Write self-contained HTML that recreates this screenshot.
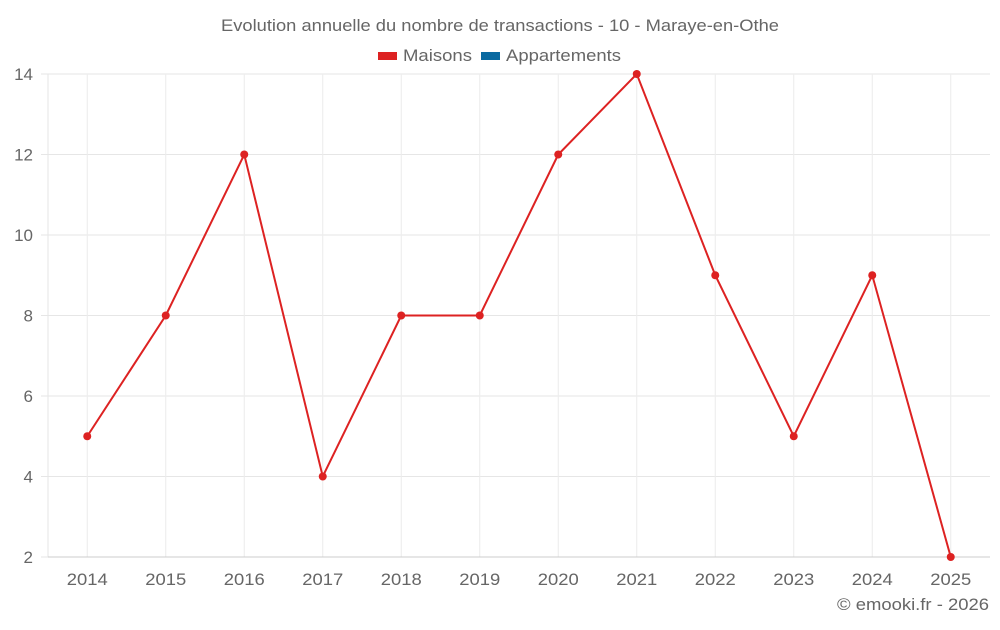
<!DOCTYPE html>
<html><head><meta charset="utf-8"><style>
body{margin:0;background:#fff;width:1000px;height:625px;overflow:hidden;font-family:"Liberation Sans",sans-serif}
</style></head><body>
<svg id="chart" width="1000" height="625" xmlns="http://www.w3.org/2000/svg">
<text x="221" y="31" font-size="17" fill="#666" textLength="558" lengthAdjust="spacingAndGlyphs">Evolution annuelle du nombre de transactions - 10 - Maraye-en-Othe</text>
<g><rect x="378" y="52" width="19" height="8" fill="#dd2222"/><text x="403" y="61" font-size="17" fill="#666" textLength="69" lengthAdjust="spacingAndGlyphs">Maisons</text></g>
<g><rect x="481" y="52" width="19" height="8" fill="#0a6aa1"/><text x="506" y="61" font-size="17" fill="#666" textLength="115" lengthAdjust="spacingAndGlyphs">Appartements</text></g>
<text x="837" y="610" font-size="17" fill="#666" textLength="152" lengthAdjust="spacingAndGlyphs">© emooki.fr - 2026</text>
<g id="grid"></g><g id="axes"></g><g id="series"></g>
</svg>
<script>
const categories=["2014","2015","2016","2017","2018","2019","2020","2021","2022","2023","2024","2025"];
const maisons=[5,8,12,4,8,8,12,14,9,5,9,2];
const yTicks=[2,4,6,8,10,12,14];
const L=48,R=990,T=74,B=557,yMin=2,yMax=14;
const bw=(R-L)/categories.length;
const x=i=>L+bw*(i+0.5);
const y=v=>B-(v-yMin)/(yMax-yMin)*(B-T);
const ns="http://www.w3.org/2000/svg";
function mk(tag,attrs,parent,txt){const e=document.createElementNS(ns,tag);for(const k in attrs)e.setAttribute(k,attrs[k]);if(txt!=null)e.textContent=txt;document.getElementById(parent).appendChild(e);return e;}
yTicks.forEach(v=>{
 const g=mk('line',{x1:41,x2:R,y1:y(v),y2:y(v),stroke:'#e6e6e6'},'grid');
 
 
 const t=mk('text',{x:33,y:y(v)+6,'text-anchor':'end','font-size':17,fill:'#666'},'axes',v);
 
 
});
categories.forEach((c,i)=>{
 const g=mk('line',{x1:x(i),x2:x(i),y1:T,y2:B,stroke:'#ececec'},'grid');
 
 
 const t=mk('text',{x:x(i),y:585,'text-anchor':'middle','font-size':17,fill:'#666',textLength:41,lengthAdjust:'spacingAndGlyphs'},'axes',c);
 
 
});
const ax=mk('line',{x1:L,x2:L,y1:T,y2:B,stroke:'#e6e6e6'},'axes');


const bx=mk('line',{x1:L,x2:R,y1:B,y2:B,stroke:'#ccc'},'axes');


const p=mk('polyline',{points:maisons.map((v,i)=>x(i)+','+y(v)).join(' '),fill:'none',stroke:'#dd2222','stroke-width':2},'series');


maisons.forEach((v,i)=>{
 const c=mk('circle',{cx:x(i),cy:y(v),r:4,fill:'#dd2222'},'series');
 
 
});
</script>
</body></html>
